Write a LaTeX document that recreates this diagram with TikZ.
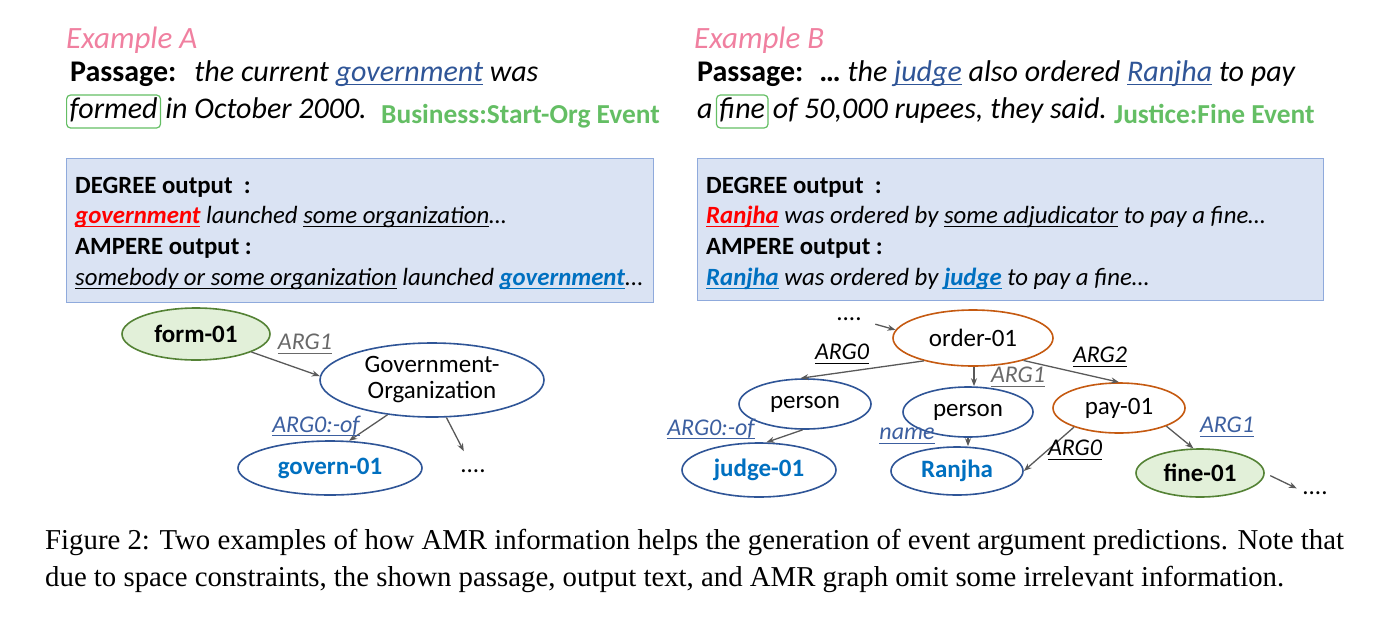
\documentclass[tikz,border=0pt]{standalone}
\usepackage{fontspec}
\setmainfont{Carlito}
\newfontfamily\capfont{Liberation Serif}
\usetikzlibrary{shapes.geometric,arrows.meta,calc}
\newsavebox{\ulbox}
\newcommand{\myul}[1]{\leavevmode\sbox{\ulbox}{#1}\rlap{\rule[-4pt]{\wd\ulbox}{1.2pt}}\usebox{\ulbox}}
\definecolor{pinkA}{RGB}{240,128,160}
\definecolor{evgreen}{RGB}{100,190,100}
\definecolor{psblue}{RGB}{47,85,151}
\definecolor{boxfill}{RGB}{218,227,243}
\definecolor{boxdraw}{RGB}{143,170,220}
\definecolor{ampblue}{RGB}{0,112,192}
\definecolor{degred}{RGB}{255,0,0}
\definecolor{nblue}{RGB}{47,85,151}
\definecolor{norange}{RGB}{197,90,17}
\definecolor{ngreenfill}{RGB}{226,240,217}
\definecolor{ngreen}{RGB}{84,130,53}
\definecolor{arrgray}{RGB}{89,89,89}
\definecolor{lblgray}{RGB}{105,105,105}
\definecolor{lblblue}{RGB}{60,95,160}
\newcommand{\fsEx}{\fontsize{31}{34}\selectfont}
\newcommand{\fsPass}{\fontsize{30}{34}\selectfont}
\newcommand{\fsEv}{\fontsize{27.4}{30}\selectfont}
\newcommand{\fsBox}{\fontsize{24.8}{28}\selectfont}
\newcommand{\fsNode}{\fontsize{25}{28}\selectfont}
\newcommand{\fsLbl}{\fontsize{24}{27}\selectfont}
\newcommand{\fsCap}{\fontsize{28.8}{32}\selectfont}
\tikzset{
  txt/.style={anchor=base west, inner sep=0pt},
  outbox/.style={draw=boxdraw, fill=boxfill, line width=1.3pt, anchor=north west, inner sep=0pt},
  evbox/.style={draw=evgreen, line width=1.2pt, rounded corners=4pt, anchor=base west, inner xsep=3pt, inner ysep=0pt, text height=23pt, text depth=10pt},
  amr/.style={ellipse, draw=nblue, line width=1.6pt, fill=white, inner sep=0pt, font=\fsNode, align=center},
  amrorange/.style={amr, draw=norange},
  amrgreen/.style={amr, draw=ngreen, fill=ngreenfill},
  arr/.style={draw=arrgray, line width=1.3pt, -{Stealth[length=8pt,width=6pt]}},
  lbl/.style={font=\fsLbl\itshape, inner sep=0pt},
  dots/.style={font=\fsNode, inner sep=0pt, anchor=base}
}
\begin{document}
\begin{tikzpicture}[x=1pt,y=-1pt]
\useasboundingbox (0,0) rectangle (1400,625);
% ---------------- Example A ----------------
\node[txt, font=\fsEx\itshape, text=pinkA] (exA) at (66,48) {Example A};
\node[txt, font=\fsPass] (pA1) at (70,81) {\bfseries Passage:\hspace{18pt}\mdseries\itshape the current \textcolor{psblue}{\myul{government}} was};
\node[evbox, font=\fsPass\itshape] (formed) at (66,118) {formed};
\node[txt, font=\fsPass\itshape] (pA2) at ($(formed.base east)+(4,0)$) {in October 2000.};
\node[txt, font=\fsEv\bfseries, text=evgreen] (evA) at (381,123) {Business:Start-Org Event};

\node[outbox, minimum width=587pt, minimum height=144pt] (boxA) at (66,158) {};
\node[txt, font=\fsBox] (dA) at (75,193) {\bfseries DEGREE output\ \ :};
\node[txt, font=\fsBox\itshape] (dAo) at (75,223) {\textcolor{degred}{\bfseries\myul{government}} launched \myul{some organization}…};
\node[txt, font=\fsBox] (aA) at (75,254) {\bfseries AMPERE output :};
\node[txt, font=\fsBox\itshape] (aAo) at (75,285) {\myul{somebody or some organization} launched \textcolor{ampblue}{\bfseries\myul{government}}...};

% AMR graph A
\node[amrgreen, minimum width=148pt, minimum height=52pt] (form) at (196,334) {\bfseries form-01};
\node[amr, minimum width=224pt, minimum height=74pt] (gov) at (432,380) {Government-\\[-2pt]Organization};
\node[amr, minimum width=184pt, minimum height=54pt, text=ampblue] (govern) at (330,468) {\bfseries govern-01};
\node[dots] (dotsA) at (473,472) {....};
\draw[arr] (form.-18) -- (gov.178);
\draw[arr] (gov.-142) -- (govern.55);
\draw[arr, shorten >=20pt] (gov.-69) -- (dotsA.north);
\node[lbl, text=lblgray] (lA1) at (305,344) {\myul{ARG1}};
\node[lbl, text=lblblue] (lA2) at (316,426) {\myul{ARG0:-of}};

% ---------------- Example B ----------------
\node[txt, font=\fsEx\itshape, text=pinkA] (exB) at (694,48) {Example B};
\node[txt, font=\fsPass] (pB1) at (697,81) {\bfseries Passage:\hspace{16pt}…\mdseries\itshape\ the \textcolor{psblue}{\myul{judge}} also ordered \textcolor{psblue}{\myul{Ranjha}} to pay};
\node[txt, font=\fsPass\itshape] (pBa) at (697,118) {a};
\node[evbox, font=\fsPass\itshape] (fine) at ($(pBa.base east)+(3,0)$) {fine};
\node[txt, font=\fsPass\itshape] (pB2) at ($(fine.base east)+(4,0)$) {of 50,000 rupees, they said.};
\node[txt, font=\fsEv\bfseries, text=evgreen] (evB) at (1114,123) {Justice:Fine Event};

\node[outbox, minimum width=626pt, minimum height=142pt] (boxB) at (697,158) {};
\node[txt, font=\fsBox] (dB) at (706,193) {\bfseries DEGREE output\ \ :};
\node[txt, font=\fsBox\itshape] (dBo) at (706,223) {\textcolor{degred}{\bfseries\myul{Ranjha}} was ordered by \myul{some adjudicator} to pay a fine…};
\node[txt, font=\fsBox] (aB) at (706,254) {\bfseries AMPERE output :};
\node[txt, font=\fsBox\itshape] (aBo) at (706,285) {\textcolor{ampblue}{\bfseries\myul{Ranjha}} was ordered by \textcolor{ampblue}{\bfseries\myul{judge}} to pay a fine…};

% AMR graph B
\node[amrorange, minimum width=160pt, minimum height=56pt] (order) at (973,338) {order-01};
\node[amr, minimum width=132pt, minimum height=50pt] (p1) at (805,404) {person};
\node[amr, minimum width=130pt, minimum height=50pt] (p2) at (968,412) {person};
\node[amrorange, minimum width=132pt, minimum height=50pt] (pay) at (1119,408) {pay-01};
\node[amr, minimum width=154pt, minimum height=54pt, text=ampblue] (judge) at (759,470) {\bfseries judge-01};
\node[amr, minimum width=132pt, minimum height=48pt, text=ampblue] (ranjha) at (957,471) {\bfseries Ranjha};
\node[amrgreen, minimum width=128pt, minimum height=48pt] (fine01) at (1200,473) {\bfseries fine-01};
\node[dots] (dotsB) at (849,320) {....};
\node[dots] (dotsC) at (1315,494) {....};
\draw[arr, shorten <=14pt] (dotsB.south east) -- (order.174);
\draw[arr] (order.-155) -- (p1.100);
\draw[arr] ($(order.south)+(1,0)$) -- ($(order.south |- p2.north)+(1,0)$);
\draw[arr] (order.-24) -- (pay.north);
\draw[arr] (p1.-95) -- (judge.75);
\draw[arr] (p2.south) -- (p2.south |- ranjha.north);
\draw[arr] (pay.-157) -- (ranjha.east);
\draw[arr] (pay.-21) -- (fine01.105);
\draw[arr, shorten <=6pt, shorten >=6pt] (fine01.east) -- (dotsC.north west);
\node[lbl, text=black] (lB1) at (842,354) {\myul{ARG0}};
\node[lbl, text=lblgray] (lB2) at (1018,377) {\myul{ARG1}};
\node[lbl, text=black] (lB3) at (1100,357) {\myul{ARG2}};
\node[lbl, text=lblblue] (lB4) at (711,429) {\myul{ARG0:-of}};
\node[lbl, text=lblblue] (lB5) at (907,436) {\myul{name}};
\node[lbl, text=black] (lB6) at (1075,450) {\myul{ARG0}};
\node[lbl, text=lblblue] (lB7) at (1227,427) {\myul{ARG1}};

% ---------------- Caption ----------------
\node[txt, font=\capfont\fsCap] (cap1) at (45,549) {Figure 2: Two examples of how AMR information helps the generation of event argument predictions. Note that};
\node[txt, font=\capfont\fsCap] (cap2) at (45,586) {due to space constraints, the shown passage, output text, and AMR graph omit some irrelevant information.};
\end{tikzpicture}
\end{document}
